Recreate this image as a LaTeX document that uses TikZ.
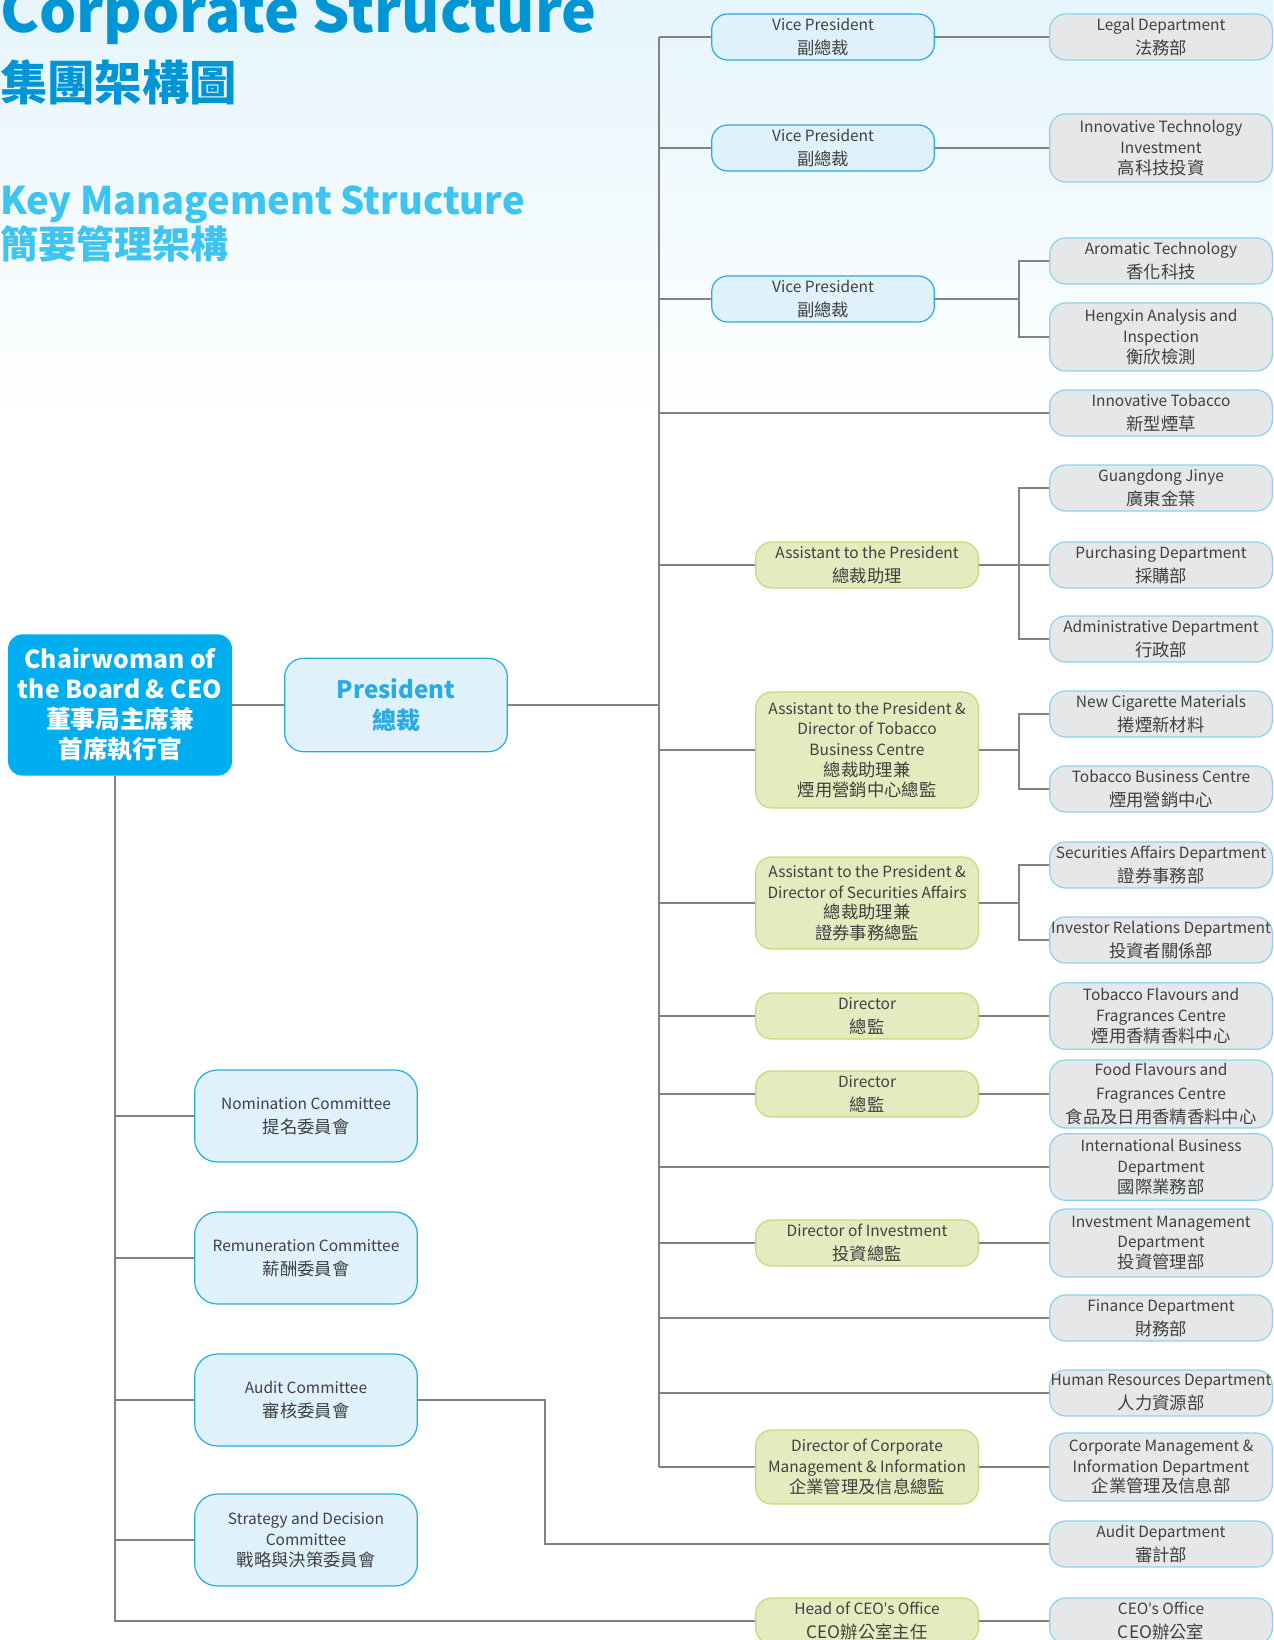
\documentclass[tikz,border=0pt]{standalone}
\usepackage{fontspec}
\setmainfont{Noto Sans CJK TC}
\newfontfamily\aposfont{Lato}
\usetikzlibrary{positioning}

\definecolor{titleblue}{RGB}{0,150,214}
\definecolor{kmsblue}{RGB}{62,196,240}
\definecolor{chairfill}{RGB}{0,174,239}
\definecolor{presfill}{RGB}{223,242,251}
\definecolor{presline}{RGB}{41,171,226}
\definecolor{grnfill}{RGB}{226,236,191}
\definecolor{grnline}{RGB}{196,218,120}
\definecolor{gryfill}{RGB}{230,231,232}
\definecolor{gryline}{RGB}{140,210,240}
\definecolor{linegray}{RGB}{130,130,130}
\definecolor{txtgray}{RGB}{64,64,64}
\definecolor{skyfade}{RGB}{230,245,252}

\newcommand{\bodyfont}{\fontsize{11.6}{18}\selectfont}
\newcommand{\zh}[1]{{\fontsize{13}{18}\selectfont #1}}
\newcommand{\apo}{{\aposfont ’}}

\tikzset{
  link/.style={draw=linegray, line width=1.1pt},
  blubox/.style={rectangle, rounded corners=12pt, draw=presline, fill=presfill,
    line width=0.9pt, minimum width=167pt, minimum height=34.5pt,
    inner sep=0pt, align=center, text=txtgray, font=\bodyfont},
  grnbox/.style={blubox, draw=grnline, fill=grnfill},
  grybox/.style={blubox, draw=gryline, fill=gryfill},
  cttbox/.style={blubox, rounded corners=17pt, minimum height=69pt},
  tight/.style={font=\fontsize{11.6}{15.5}\selectfont},
}

\begin{document}
\begin{tikzpicture}[x=0.75pt, y=-0.75pt]
	\useasboundingbox (0,0) rectangle (1273,1640);
	\shade[top color=skyfade, bottom color=white] (0,0) rectangle (1273,430);

	% titles
	\node[anchor=base west, inner sep=0, text=titleblue, font=\fontsize{44}{50}\selectfont\bfseries] (ttl) at (0,33) {Corporate Structure};
	\node[anchor=base west, inner sep=0, text=titleblue, font=\fontsize{35.5}{40}\selectfont\bfseries] (ttlzh) at (0,101) {集團架構圖};
	\node[anchor=base west, inner sep=0, text=kmsblue, font=\fontsize{28.5}{34}\selectfont\bfseries] (kms) at (0,215) {Key Management Structure};
	\node[anchor=base west, inner sep=0, text=kmsblue, font=\fontsize{28.5}{32}\selectfont\bfseries] (kmszh) at (0,259) {簡要管理架構};

	% top of the tree
	\node[rectangle, rounded corners=11pt, fill=chairfill, minimum width=168pt, minimum height=106pt, align=center, text=white, font=\fontsize{18.5}{22.5}\selectfont\bfseries] (chair) at (120,705) {Chairwoman of\\the Board \& CEO\\董事局主席兼\\首席執行官};
	\node[blubox, rounded corners=14pt, minimum height=70pt, text=presline, font=\fontsize{18}{23}\selectfont\bfseries] (pres) at (396,705) {President\\總裁};

	% committees
	\node[cttbox] (nom) at (306,1116) {Nomination Committee\\\zh{提名委員會}};
	\node[cttbox] (rem) at (306,1258) {Remuneration Committee\\\zh{薪酬委員會}};
	\node[cttbox] (acm) at (306,1400) {Audit Committee\\\zh{審核委員會}};
	\node[cttbox, tight] (sdc) at (306,1540) {Strategy and Decision\\Committee\\\zh{戰略與決策委員會}};

	% vice presidents and directors
	\node[blubox] (vpa) at (823,37) {Vice President\\\zh{副總裁}};
	\node[blubox] (vpb) at (823,148) {Vice President\\\zh{副總裁}};
	\node[blubox] (vpc) at (823,299) {Vice President\\\zh{副總裁}};
	\node[grnbox] (atp) at (867,565) {Assistant to the President\\\zh{總裁助理}};
	\node[grnbox, tight, minimum height=87pt] (atb) at (867,750) {Assistant to the President \&\\Director of Tobacco\\Business Centre\\\zh{總裁助理兼}\\\zh{煙用營銷中心總監}};
	\node[grnbox, tight, minimum height=69pt] (ats) at (867,903) {Assistant to the President \&\\Director of Securities Affairs\\\zh{總裁助理兼}\\\zh{證券事務總監}};
	\node[grnbox] (dra) at (867,1016) {Director\\\zh{總監}};
	\node[grnbox] (drb) at (867,1094) {Director\\\zh{總監}};
	\node[grnbox] (dri) at (867,1243) {Director of Investment\\\zh{投資總監}};
	\node[grnbox, tight, minimum height=55.5pt] (dcm) at (867,1467) {Director of Corporate\\Management \& Information\\\zh{企業管理及信息總監}};
	\node[grnbox] (hco) at (867,1621) {Head of CEO\apo s Office\\\zh{CEO辦公室主任}};

	% departments
	\node[grybox] (legal) at (1161,37) {Legal Department\\\zh{法務部}};
	\node[grybox, tight, minimum height=51pt] (itinv) at (1161,148) {Innovative Technology\\Investment\\\zh{高科技投資}};
	\node[grybox] (arom) at (1161,261) {Aromatic Technology\\\zh{香化科技}};
	\node[grybox, tight, minimum height=51pt] (hengx) at (1161,337) {Hengxin Analysis and\\Inspection\\\zh{衡欣檢測}};
	\node[grybox] (itob) at (1161,413) {Innovative Tobacco\\\zh{新型煙草}};
	\node[grybox] (gdjy) at (1161,488) {Guangdong Jinye\\\zh{廣東金葉}};
	\node[grybox] (purch) at (1161,565) {Purchasing Department\\\zh{採購部}};
	\node[grybox] (admin) at (1161,639) {Administrative Department\\\zh{行政部}};
	\node[grybox] (ncm) at (1161,714) {New Cigarette Materials\\\zh{捲煙新材料}};
	\node[grybox] (tbc) at (1161,789) {Tobacco Business Centre\\\zh{煙用營銷中心}};
	\node[grybox] (sad) at (1161,865) {Securities Affairs Department\\\zh{證券事務部}};
	\node[grybox] (ird) at (1161,940) {Investor Relations Department\\\zh{投資者關係部}};
	\node[grybox, tight, minimum height=50pt] (tff) at (1161,1016) {Tobacco Flavours and\\Fragrances Centre\\\zh{煙用香精香料中心}};
	\node[grybox, minimum height=51pt] (fff) at (1161,1094) {Food Flavours and\\Fragrances Centre\\\zh{食品及日用香精香料中心}};
	\node[grybox, tight, minimum height=50pt] (ibd) at (1161,1167) {International Business\\Department\\\zh{國際業務部}};
	\node[grybox, tight, minimum height=51pt] (imd) at (1161,1243) {Investment Management\\Department\\\zh{投資管理部}};
	\node[grybox] (fin) at (1161,1318) {Finance Department\\\zh{財務部}};
	\node[grybox] (hrd) at (1161,1393) {Human Resources Department\\\zh{人力資源部}};
	\node[grybox, tight, minimum height=51pt] (cmi) at (1161,1467) {Corporate Management \&\\Information Department\\\zh{企業管理及信息部}};
	\node[grybox] (aud) at (1161,1544) {Audit Department\\\zh{審計部}};
	\node[grybox] (ceoo) at (1161,1621) {CEO\apo s Office\\\zh{CEO辦公室}};

	% connectors
	\coordinate (bustop) at (659,37);
	\coordinate (busbot) at (659,1467);
	\coordinate (subx) at (1019,0);
	\coordinate (spine) at (115,1621);
	\coordinate (akink) at (545,1400);

	\draw[link] (chair.east) -- (pres.west);
	\draw[link] (pres.east) -- (pres.east -| bustop);
	\draw[link] (bustop) -- (busbot);
	\draw[link] (chair.south -| spine) -- (spine) -- (hco.west);
	\draw[link] (spine |- nom.west) -- (nom.west);
	\draw[link] (spine |- rem.west) -- (rem.west);
	\draw[link] (spine |- acm.west) -- (acm.west);
	\draw[link] (spine |- sdc.west) -- (sdc.west);
	\draw[link] (acm.east) -- (akink) |- (aud.west);

	\draw[link] (bustop |- vpa.west) -- (vpa.west);
	\draw[link] (bustop |- vpb.west) -- (vpb.west);
	\draw[link] (bustop |- vpc.west) -- (vpc.west);
	\draw[link] (bustop |- itob.west) -- (itob.west);
	\draw[link] (bustop |- atp.west) -- (atp.west);
	\draw[link] (bustop |- atb.west) -- (atb.west);
	\draw[link] (bustop |- ats.west) -- (ats.west);
	\draw[link] (bustop |- dra.west) -- (dra.west);
	\draw[link] (bustop |- drb.west) -- (drb.west);
	\draw[link] (bustop |- ibd.west) -- (ibd.west);
	\draw[link] (bustop |- dri.west) -- (dri.west);
	\draw[link] (bustop |- fin.west) -- (fin.west);
	\draw[link] (bustop |- hrd.west) -- (hrd.west);
	\draw[link] (bustop |- dcm.west) -- (dcm.west);

	\draw[link] (vpa.east) -- (legal.west);
	\draw[link] (vpb.east) -- (itinv.west);
	\draw[link] (vpc.east) -- (vpc.east -| subx);
	\draw[link] (arom.west) -- (arom.west -| subx) -- (hengx.west -| subx) -- (hengx.west);
	\draw[link] (atp.east) -- (purch.west);
	\draw[link] (gdjy.west) -- (gdjy.west -| subx) -- (admin.west -| subx) -- (admin.west);
	\draw[link] (atb.east) -- (atb.east -| subx);
	\draw[link] (ncm.west) -- (ncm.west -| subx) -- (tbc.west -| subx) -- (tbc.west);
	\draw[link] (ats.east) -- (ats.east -| subx);
	\draw[link] (sad.west) -- (sad.west -| subx) -- (ird.west -| subx) -- (ird.west);
	\draw[link] (dra.east) -- (tff.west);
	\draw[link] (drb.east) -- (fff.west);
	\draw[link] (dri.east) -- (imd.west);
	\draw[link] (dcm.east) -- (cmi.west);
	\draw[link] (hco.east) -- (ceoo.west);
\end{tikzpicture}
\end{document}
